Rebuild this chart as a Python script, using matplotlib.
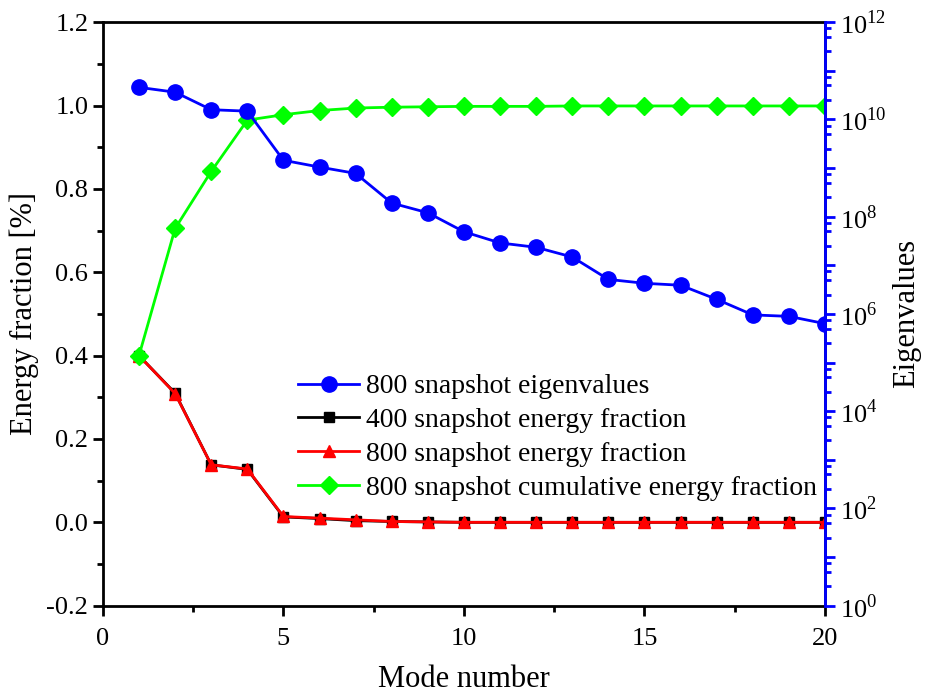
import matplotlib
matplotlib.use('Agg')
import matplotlib.pyplot as plt
import numpy as np
from matplotlib.ticker import MultipleLocator, LogLocator, NullFormatter

plt.rcParams['font.family'] = ['Liberation Serif', 'DejaVu Serif']
plt.rcParams['mathtext.fontset'] = 'custom'
plt.rcParams['mathtext.rm'] = 'Liberation Serif'

modes = np.arange(1, 21)
eig_800 = [10**10.66, 10**10.56, 10**10.20, 10**10.17, 10**9.16, 10**9.02, 10**8.89,
           10**8.28, 10**8.08, 10**7.69, 10**7.46, 10**7.37, 10**7.17, 10**6.71,
           10**6.63, 10**6.59, 10**6.30, 10**5.98, 10**5.95, 10**5.80]
frac_400 = [0.400, 0.310, 0.138, 0.127, 0.013, 0.009, 0.004, 0.002, 0.001, 0.0,
            0.0, 0.0, 0.0, 0.0, 0.0, 0.0, 0.0, 0.0, 0.0, 0.0]
frac_800 = [0.400, 0.309, 0.138, 0.128, 0.014, 0.010, 0.006, 0.002, 0.001, 0.0,
            0.0, 0.0, 0.0, 0.0, 0.0, 0.0, 0.0, 0.0, 0.0, 0.0]
cum_800 = [0.400, 0.705, 0.842, 0.965, 0.978, 0.988, 0.994, 0.996, 0.997, 0.998,
           0.998, 0.998, 0.999, 0.999, 0.999, 0.999, 0.999, 0.999, 0.999, 0.999]

fig = plt.figure(figsize=(9.27, 6.93), dpi=100)
ax = fig.add_axes([0.111, 0.126, 0.779, 0.842])
ax2 = ax.twinx()

l_black, = ax.plot(modes, frac_400, '-s', color='black', lw=2, ms=7,
                   label='400 snapshot energy fraction')
l_red, = ax.plot(modes, frac_800, '-^', color='red', lw=2, ms=9,
                 label='800 snapshot energy fraction')
l_green, = ax.plot(modes, cum_800, '-D', color='#00ff00', lw=2, ms=9,
                   label='800 snapshot cumulative energy fraction')
l_blue, = ax2.plot(modes, eig_800, '-o', color='blue', lw=2, ms=11,
                   label='800 snapshot eigenvalues')

ax.set_xlim(0, 20)
ax.set_ylim(-0.2, 1.2)
ax.xaxis.set_major_locator(MultipleLocator(5))
ax.xaxis.set_minor_locator(MultipleLocator(2.5))
ax.yaxis.set_major_locator(MultipleLocator(0.2))
ax.yaxis.set_minor_locator(MultipleLocator(0.1))
ax.yaxis.set_major_formatter(plt.FuncFormatter(lambda v, p: f'{v:.1f}'))
ax.tick_params(which='both', direction='out', width=2, labelsize=19, top=False, right=False)
ax.tick_params(axis='x', pad=9)
ax.tick_params(which='major', length=7)
ax.tick_params(which='minor', length=4)
for s in ax.spines.values():
    s.set_linewidth(2)
ax.set_xlabel('Mode number', fontsize=22, labelpad=11)
ax.set_ylabel('Energy fraction [%]', fontsize=22, labelpad=5)

ax2.set_yscale('log')
ax2.set_ylim(1, 1e12)
ax2.yaxis.set_major_locator(LogLocator(base=10, numticks=20))
ax2.yaxis.set_major_formatter(plt.FuncFormatter(
    lambda v, p: f'$10^{{{int(round(np.log10(v)))}}}$' if int(round(np.log10(v))) % 2 == 0 else ''))
ax2.yaxis.set_minor_locator(LogLocator(base=10, subs=(2.5, 5, 7.5), numticks=50))
ax2.yaxis.set_minor_formatter(NullFormatter())
ax2.tick_params(which='both', direction='out', width=2, color='blue', labelsize=19)
ax2.tick_params(which='major', length=7)
ax2.tick_params(which='minor', length=4)
ax2.spines['right'].set_color('blue')
ax2.spines['right'].set_linewidth(2)
for k in ['left', 'top', 'bottom']:
    ax2.spines[k].set_visible(False)
ax2.set_ylabel('Eigenvalues', fontsize=22, labelpad=4)

ax2.legend(handles=[l_blue, l_black, l_red, l_green], loc='upper left',
           bbox_to_anchor=(0.236, 0.44), frameon=False, fontsize=20,
           handlelength=2.2, labelspacing=0.3, handletextpad=0.25)

fig.savefig('out.png', dpi=100)
